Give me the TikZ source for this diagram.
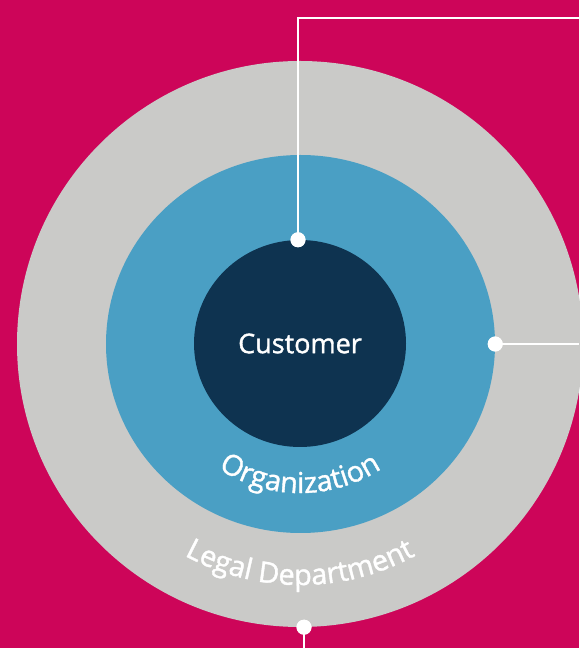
\documentclass[tikz,border=0pt]{standalone}
\usepackage{fontspec}
\setmainfont{Open Sans}
\newfontfamily\semifont{Open Sans}[FakeBold=1.3]
\usepackage{xcolor}
\usepackage{tikz}
\usetikzlibrary{positioning, calc, shapes.geometric, decorations.text}
\definecolor{bgfill}{HTML}{CD0559}
\definecolor{legalfill}{HTML}{CACAC8}
\definecolor{orgfill}{HTML}{4A9FC4}
\definecolor{custfill}{HTML}{0E3350}
\newcommand{\ringfont}{\semifont\fontsize{27}{30}\selectfont}
\newcommand{\arclabelfont}{\semifont\fontsize{28.8}{32}\selectfont}
\tikzset{
    ring/.style={
        ellipse,
        draw=none,
        inner sep=0pt
    },
    legalring/.style={
        ring,
        fill=legalfill,
        minimum width=566pt,
        minimum height=566pt
    },
    orgring/.style={
        ring,
        fill=orgfill,
        minimum width=389pt,
        minimum height=378pt
    },
    custring/.style={
        ring,
        fill=custfill,
        minimum width=212pt,
        minimum height=207pt,
        text=white,
        font=\ringfont
    },
    dot/.style={
        circle,
        fill=white,
        inner sep=0pt,
        minimum size=15pt
    },
    leader/.style={
        draw=white,
        line width=2.3pt
    },
    ringlabel/.style={
        decorate,
        decoration={text along path, text align=center, text color=white}
    }
}
\begin{document}
\begin{tikzpicture}[x=1pt, y=1pt]

% Background
\fill[bgfill] (0,0) rectangle (579,648);
\useasboundingbox (0,0) rectangle (579,648);

% Rings
\node[legalring] (legal) at (300,304) {};
\node[orgring] (org) at (300.5,304) {};
\node[custring] (customer) at (300,304.5) {Customer};

% Ring labels
\path[ringlabel, decoration={text={|\arclabelfont|Organization}}]
    (300,304) ++(200:149) arc[start angle=200, end angle=340, radius=149];
\path[ringlabel, decoration={text={|\arclabelfont|Legal Department}}]
    (300,304) ++(205:241) arc[start angle=205, end angle=335, radius=241];

% Leader end points
\coordinate (topend) at (579,630);
\coordinate (rightend) at (579,304);
\coordinate (bottomend) at (304,0);

% Dots
\node[dot] (custdot) at ([xshift=-2pt]customer.north) {};
\node[dot] (orgdot) at (org.east) {};
\node[dot] (legaldot) at ([xshift=4pt]legal.south) {};

% Leaders
\draw[leader] (custdot.center) |- (topend);
\draw[leader] (orgdot.center) -- (rightend);
\draw[leader] (legaldot.center) -- (bottomend);
\node[dot] at (custdot) {};
\node[dot] at (orgdot) {};
\node[dot] at (legaldot) {};

\end{tikzpicture}
\end{document}
